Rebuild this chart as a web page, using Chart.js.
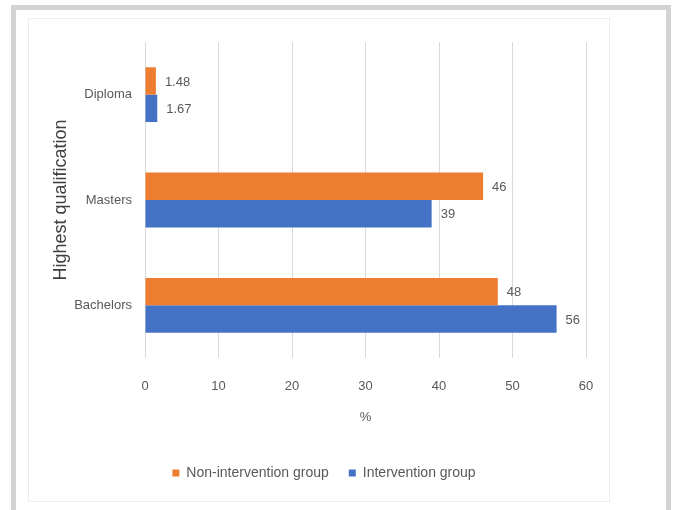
<!DOCTYPE html>
<html>
<head>
<meta charset="utf-8">
<script src="https://cdn.jsdelivr.net/npm/chart.js@4.4.1/dist/chart.umd.min.js"></script>
<style>
  body { margin: 0; background: #fff; }
  #wrap { position: relative; width: 675px; height: 510px; overflow: hidden; }
  .frame { position: absolute; left: 11px; top: 5px; width: 650px; height: 520px; border: 5px solid #d3d3d3; }
  .inner { position: absolute; left: 28px; top: 18px; width: 580px; height: 482px; border: 1px solid #ececec; }
  canvas { position: absolute; left: 0; top: 0; }
</style>
</head>
<body>
<div id="wrap">
  <div class="frame"></div>
  <div class="inner"></div>
  <canvas id="qual_Chart" width="675" height="510"></canvas>
</div>
<script>
const categories = ['Diploma', 'Masters', 'Bachelors'];
const nonIntervention = [1.48, 46, 48];
const intervention = [1.67, 39, 56];
const xTicks = [0, 10, 20, 30, 40, 50, 60];

const textFont = "'Liberation Sans', Arial, sans-serif";
const grey = '#595959';

// value labels at the end of each bar
const barLabels = {
    id: 'barLabels',
    afterDatasetsDraw(chart) {
        const ctx = chart.ctx;
        ctx.save();
        ctx.font = '13px ' + textFont;
        ctx.fillStyle = grey;
        ctx.textAlign = 'left';
        ctx.textBaseline = 'middle';
        chart.data.datasets.forEach((ds, i) => {
            chart.getDatasetMeta(i).data.forEach((bar, j) => {
                ctx.fillText(String(ds.data[j]), bar.x + 9, bar.y + 1);
            });
        });
        ctx.restore();
    }
};

const ctx = document.getElementById('qual_Chart').getContext('2d');

const config = {
    type: 'bar',
    data: {
        labels: categories,
        datasets: [
            {
                label: 'Non-intervention group',
                data: nonIntervention,
                backgroundColor: '#ED7D31',
                categoryPercentage: 0.52,
                barPercentage: 1.0
            },
            {
                label: 'Intervention group',
                data: intervention,
                backgroundColor: '#4472C4',
                categoryPercentage: 0.52,
                barPercentage: 1.0
            }
        ]
    },
    options: {
        indexAxis: 'y',
        responsive: false,
        animation: false,
        layout: {
            padding: { left: 62, right: 89, top: 42, bottom: 20 }
        },
        scales: {
            x: {
                min: 0,
                max: 60,
                afterBuildTicks: (scale) => { scale.ticks = xTicks.map(v => ({ value: v })); },
                afterFit: (scale) => { scale.height = 88; },
                grid: { color: '#d9d9d9', drawTicks: false },
                border: { display: false },
                ticks: { padding: 21, color: grey, font: { family: textFont, size: 13 } },
                title: {
                    display: true,
                    text: '%',
                    color: grey,
                    font: { family: textFont, size: 13 },
                    padding: { top: 0, bottom: 21 }
                }
            },
            y: {
                afterFit: (scale) => { scale.width = 83; },
                grid: { display: false, drawTicks: false },
                border: { display: false },
                ticks: { padding: 13, color: grey, font: { family: textFont, size: 13 } },
                title: {
                    display: true,
                    text: 'Highest qualification',
                    color: '#404040',
                    font: { family: textFont, size: 18 },
                    padding: { top: -12, bottom: 0 }
                }
            }
        },
        plugins: {
            legend: {
                display: true,
                position: 'bottom',
                labels: {
                    boxWidth: 7,
                    boxHeight: 7,
                    padding: 20,
                    color: grey,
                    font: { family: textFont, size: 14 }
                }
            },
            tooltip: { enabled: false }
        }
    },
    plugins: [barLabels]
};

const qualChart = new Chart(ctx, config);
</script>
</body>
</html>
